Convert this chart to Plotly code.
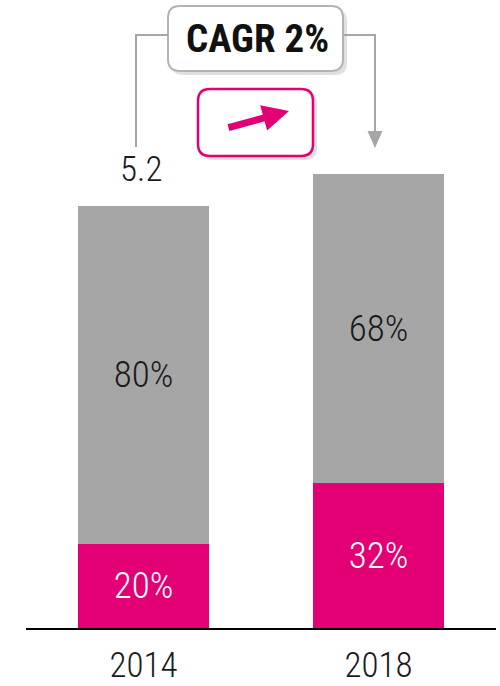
import plotly.graph_objects as go

years = ["2014", "2018"]
totals = [5.2, 5.6]
magenta_share = [20, 32]
grey_share = [80, 68]
total_labels = ["5.2", None]
cagr_text = "CAGR 2%"

MAGENTA = "#E20074"
GREY = "#A6A6A6"
FONT = "Roboto Condensed, Liberation Sans Narrow, Arial Narrow, DejaVu Sans Condensed, sans-serif"
LIGHT = 300

W, H = 500, 686
L, R, T, B = 26, 4, 0, 58
PW, PH = W - L - R, H - T - B


def px(x):
    return (x - L) / PW


def py(y):
    return (H - B - y) / PH


def rrect(x0, y0, x1, y1, r):
    rx, ry = r / PW, r / PH
    a, b, c, d = px(x0), px(x1), py(y1), py(y0)  # left, right, bottom, top
    return (f"M {a+rx},{d} L {b-rx},{d} Q {b},{d} {b},{d-ry} L {b},{c+ry} Q {b},{c} {b-rx},{c} "
            f"L {a+rx},{c} Q {a},{c} {a},{c+ry} L {a},{d-ry} Q {a},{d} {a+rx},{d} Z")


mag_vals = [t * s / 100 for t, s in zip(totals, magenta_share)]
grey_vals = [t * s / 100 for t, s in zip(totals, grey_share)]

fig = go.Figure()
fig.add_bar(x=years, y=mag_vals, marker_color=MAGENTA, marker_line_width=0,
            text=[f"{s}%" for s in magenta_share], textposition="inside",
            insidetextanchor="middle",
            textfont=dict(color="white", size=37, family=FONT, weight=LIGHT),
            width=0.557, hoverinfo="skip")
fig.add_bar(x=years, y=grey_vals, marker_color=GREY, marker_line_width=0,
            text=[f"{s}%" for s in grey_share], textposition="inside",
            insidetextanchor="middle",
            textfont=dict(color="#1a1a1a", size=37, family=FONT, weight=LIGHT),
            width=0.557, hoverinfo="skip")

shapes = []
# shadows
shapes.append(dict(type="path", xref="paper", yref="paper", path=rrect(171, 9, 347, 75, 12),
                   fillcolor="rgba(0,0,0,0.12)", line=dict(width=0), layer="above"))
shapes.append(dict(type="path", xref="paper", yref="paper", path=rrect(201, 92, 317, 160, 12),
                   fillcolor="rgba(0,0,0,0.12)", line=dict(width=0), layer="above"))
# boxes
shapes.append(dict(type="path", xref="paper", yref="paper", path=rrect(168, 6, 343, 71, 12),
                   fillcolor="white", line=dict(color="#B3B3B3", width=2), layer="above"))
shapes.append(dict(type="path", xref="paper", yref="paper", path=rrect(198, 89, 313, 156, 12),
                   fillcolor="white", line=dict(color=MAGENTA, width=2.5), layer="above"))
# connectors
shapes.append(dict(type="path", xref="paper", yref="paper",
                   path=f"M {px(136)},{py(147)} L {px(136)},{py(35)} L {px(168)},{py(35)}",
                   line=dict(color=GREY, width=2)))
shapes.append(dict(type="path", xref="paper", yref="paper",
                   path=f"M {px(343)},{py(35)} L {px(375)},{py(35)} L {px(375)},{py(132)}",
                   line=dict(color=GREY, width=2)))
shapes.append(dict(type="path", xref="paper", yref="paper",
                   path=f"M {px(367.5)},{py(131)} L {px(382.5)},{py(131)} L {px(375)},{py(148)} Z",
                   fillcolor=GREY, line=dict(width=0)))

annotations = []
for i, (t, lab) in enumerate(zip(totals, total_labels)):
    if lab:
        annotations.append(dict(x=i, y=t, xref="x", yref="y", text=lab, showarrow=False,
                                yanchor="bottom", yshift=14, xshift=-3,
                                font=dict(size=35, color="#1a1a1a", family=FONT, weight=LIGHT)))
annotations.append(dict(x=px(257), y=py(39), xref="paper", yref="paper", text=f"<b>{cagr_text}</b>",
                        xanchor="center", yanchor="middle",
                        showarrow=False, font=dict(size=39, color="#111111", family=FONT)))
annotations.append(dict(x=px(289), y=py(111), xref="paper", yref="paper", text="", showarrow=True,
                        ax=-62, ay=17, arrowhead=2, arrowsize=0.75, arrowwidth=7,
                        arrowcolor=MAGENTA))

fig.update_layout(
    barmode="stack", width=W, height=H, showlegend=False,
    margin=dict(l=L, r=R, t=T, b=B, autoexpand=False),
    paper_bgcolor="white", plot_bgcolor="white",
    xaxis=dict(type="category", showline=True, linecolor="black", linewidth=2, showgrid=False,
               ticks="", tickfont=dict(size=35, color="#1a1a1a", family=FONT, weight=LIGHT),
               range=[-0.5, 1.5], ticklabelstandoff=5, automargin=False),
    yaxis=dict(visible=False, range=[0, PH / (422 / 5.2)], automargin=False),
    shapes=shapes, annotations=annotations,
    font=dict(family=FONT),
)

fig.write_html("out.html", config={"displayModeBar": False, "staticPlot": True},
               post_script="document.body.style.margin='0';document.body.style.overflow='hidden';")
